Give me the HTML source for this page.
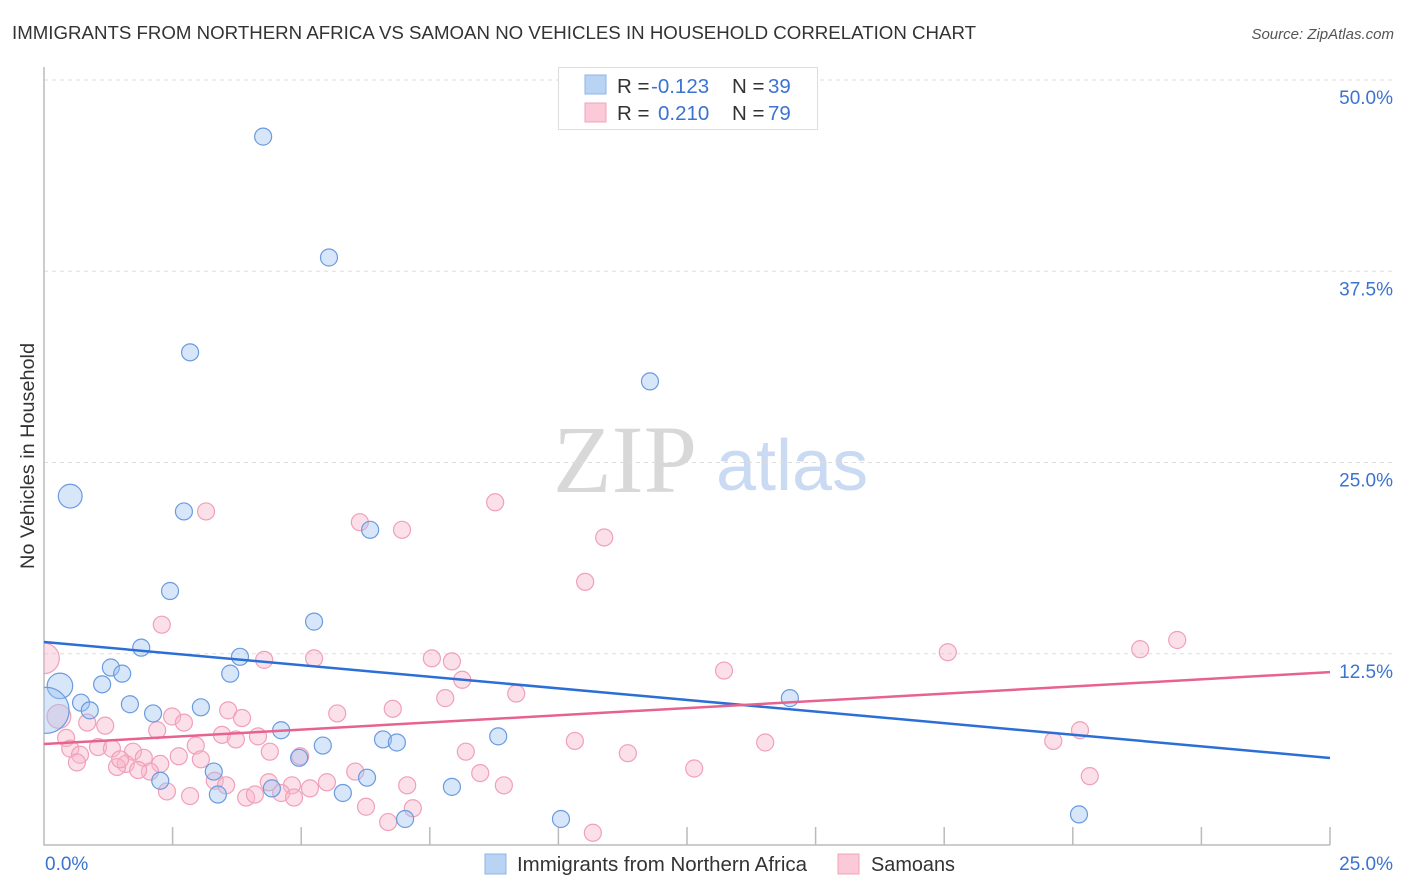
<!DOCTYPE html>
<html><head><meta charset="utf-8">
<style>
body{margin:0;background:#fff;font-family:"Liberation Sans",sans-serif;}
svg{display:block}
</style></head>
<body>
<svg id="chart" width="1406" height="892" viewBox="0 0 1406 892">
<defs><clipPath id="plotclip"><rect x="44" y="60" width="1360" height="785"/></clipPath></defs>
<text x="12" y="39" font-size="18.6" fill="#333" textLength="964" lengthAdjust="spacingAndGlyphs">IMMIGRANTS FROM NORTHERN AFRICA VS SAMOAN NO VEHICLES IN HOUSEHOLD CORRELATION CHART</text>
<text x="1394" y="39" font-size="15" fill="#555" font-style="italic" text-anchor="end">Source: ZipAtlas.com</text>
<g>
<text x="553" y="492" font-size="96" font-family="Liberation Serif,serif" fill="#d8d8d8">ZIP</text>
<text x="716" y="490" font-size="72" fill="#c9daf2">atlas</text>
</g>
<g id="grid"></g>
<g id="axes"></g>
<g id="pts" clip-path="url(#plotclip)"></g>
<g id="trend"></g>
<text transform="translate(34,456) rotate(-90)" font-size="19" fill="#333" text-anchor="middle" textLength="226" lengthAdjust="spacingAndGlyphs">No Vehicles in Household</text>
<g>
<rect x="558.5" y="67.5" width="259" height="62" fill="#fff" stroke="#ddd"/>
<rect x="585" y="75" width="21" height="19" fill="#b9d3f5" stroke="#8fb4e8"/>
<rect x="585" y="103" width="21" height="19" fill="#fbc9d8" stroke="#f2a3bd"/>
<text x="617" y="93" font-size="20.5" fill="#333">R = <tspan x="651" fill="#3b73d0">-0.123</tspan><tspan x="732">N = </tspan><tspan x="768" fill="#3b73d0">39</tspan></text>
<text x="617" y="120" font-size="20.5" fill="#333">R = <tspan x="658" fill="#3b73d0">0.210</tspan><tspan x="732">N = </tspan><tspan x="768" fill="#3b73d0">79</tspan></text>
</g>
<g>
<rect x="485" y="854" width="21" height="20" fill="#b9d3f5" stroke="#8fb4e8"/>
<text x="517" y="871" font-size="20" fill="#333" textLength="290" lengthAdjust="spacingAndGlyphs">Immigrants from Northern Africa</text>
<rect x="838" y="854" width="21" height="20" fill="#fbc9d8" stroke="#f2a3bd"/>
<text x="871" y="871" font-size="20" fill="#333" textLength="84" lengthAdjust="spacingAndGlyphs">Samoans</text>
</g>
</svg>
<script>
const yTicks=[12.5,25,37.5,50];
const yTickLabels=["12.5%","25.0%","37.5%","50.0%"];
const xTickValues=[2.5,5,7.5,10,12.5,15,17.5,20,22.5,25];
const xTickLabels=["0.0%","25.0%"];
const blueX=[4.26,5.54,2.84,11.78,0.51,2.72,6.34,2.45,5.25,1.89,3.81,1.30,1.52,3.62,0.31,1.13,0.72,0.89,1.67,2.12,3.05,0.04,4.61,14.50,6.59,6.86,5.42,8.83,4.96,3.30,2.26,6.28,3.38,5.81,4.43,7.93,7.02,10.05,20.12];
const blueY=[46.3,38.4,32.2,30.3,22.8,21.8,20.6,16.6,14.6,12.9,12.3,11.6,11.2,11.2,10.4,10.5,9.3,8.8,9.2,8.6,9.0,8.8,7.5,9.6,6.9,6.7,6.5,7.1,5.7,4.8,4.2,4.4,3.3,3.4,3.7,3.8,1.7,1.7,2.0];
const blueSize=[1,1,1,1,1.4,1,1,1,1,1,1,1,1,1,1.5,1,1,1,1,1,1,2.7,1,1,1,1,1,1,1,1,1,1,1,1,1,1,1,1,1];
const pinkX=[0.0,3.15,8.77,6.14,6.96,10.89,10.52,2.29,4.28,5.25,7.54,7.93,8.13,13.22,17.57,21.31,22.03,9.18,7.80,0.29,0.84,1.19,2.49,2.72,3.58,3.85,5.70,6.78,2.20,3.46,3.73,4.16,2.95,10.32,14.02,19.62,20.14,0.43,0.51,1.05,1.32,0.70,0.64,1.73,1.94,1.59,1.42,2.26,2.06,1.83,2.62,3.05,8.20,11.35,4.98,4.39,6.05,5.50,3.32,3.54,4.37,4.82,5.17,7.06,8.48,8.94,12.64,20.33,2.39,2.84,3.93,4.10,4.61,4.86,6.26,7.17,6.69,10.67,1.48];
const pinkY=[12.2,21.8,22.4,21.1,20.6,20.1,17.2,14.4,12.1,12.2,12.2,12.0,10.8,11.4,12.6,12.8,13.4,9.9,9.6,8.4,8.0,7.8,8.4,8.0,8.8,8.3,8.6,8.9,7.5,7.2,6.9,7.1,6.5,6.8,6.7,6.8,7.5,7.0,6.3,6.4,6.3,5.9,5.4,6.1,5.7,5.3,5.1,5.3,4.8,4.9,5.8,5.6,6.1,6.0,5.8,6.1,4.8,4.1,4.2,3.9,4.1,3.9,3.7,3.9,4.7,3.9,5.0,4.5,3.5,3.2,3.1,3.3,3.4,3.1,2.5,2.4,1.5,0.8,5.6];
const pinkSize=[1.8,1,1,1,1,1,1,1,1,1,1,1,1,1,1,1,1,1,1,1.4,1,1,1,1,1,1,1,1,1,1,1,1,1,1,1,1,1,1,1,1,1,1,1,1,1,1,1,1,1,1,1,1,1,1,1,1,1,1,1,1,1,1,1,1,1,1,1,1,1,1,1,1,1,1,1,1,1,1,1];
const blueTrend=[13.27,5.69];
const pinkTrend=[6.6,11.3];
const trendX=[0,25];

const X0=44,X1=1330,Y0=845,PX_PER_PCT_Y=15.3;
const sx=v=>X0+(X1-X0)*v/25;
const sy=v=>Y0-v*PX_PER_PCT_Y;
const NS="http://www.w3.org/2000/svg";
function mk(tag,attrs,parent){const e=document.createElementNS(NS,tag);for(const k in attrs)e.setAttribute(k,attrs[k]);parent.appendChild(e);return e;}
const grid=document.getElementById('grid'),axes=document.getElementById('axes'),pts=document.getElementById('pts'),trend=document.getElementById('trend');
yTicks.forEach((t,i)=>{
  const l=mk('line',{x1:X0,x2:1393,y1:sy(t),y2:sy(t),stroke:'#ddd','stroke-dasharray':'4,4'},grid);
  
  
  const tx=mk('text',{x:1393,y:sy(t)+24,'font-size':19,fill:'#3b73d0','text-anchor':'end'},axes);
  tx.textContent=yTickLabels[i];
  
  
});
const ax=mk('path',{d:`M${X0} 67V${Y0}H${X1}`,stroke:'#bbb',fill:'none','stroke-width':1.5},axes);


xTickValues.forEach(t=>{
  const l=mk('line',{x1:sx(t),x2:sx(t),y1:Y0-18,y2:Y0,stroke:'#bbb','stroke-width':1.5},axes);
  
  
});
const xl0=mk('text',{x:45,y:870,'font-size':19,fill:'#3b73d0'},axes);xl0.textContent=xTickLabels[0];


const xl1=mk('text',{x:1393,y:870,'font-size':19,fill:'#3b73d0','text-anchor':'end'},axes);xl1.textContent=xTickLabels[1];


pinkX.forEach((v,i)=>{
  const c=mk('circle',{cx:sx(v),cy:sy(pinkY[i]),r:8.5*pinkSize[i],fill:'rgba(248,182,202,0.42)',stroke:'#f0a0b9','stroke-width':1.2},pts);
  
  
});
blueX.forEach((v,i)=>{
  const c=mk('circle',{cx:sx(v),cy:sy(blueY[i]),r:8.5*blueSize[i],fill:'rgba(160,196,240,0.42)',stroke:'#6a9be0','stroke-width':1.2},pts);
  
  
});
const bl=mk('line',{x1:sx(trendX[0]),y1:sy(blueTrend[0]),x2:sx(trendX[1]),y2:sy(blueTrend[1]),stroke:'#2b6fd6','stroke-width':2.5},trend);


const pl=mk('line',{x1:sx(trendX[0]),y1:sy(pinkTrend[0]),x2:sx(trendX[1]),y2:sy(pinkTrend[1]),stroke:'#e8628e','stroke-width':2.5},trend);


</script>
</body></html>
